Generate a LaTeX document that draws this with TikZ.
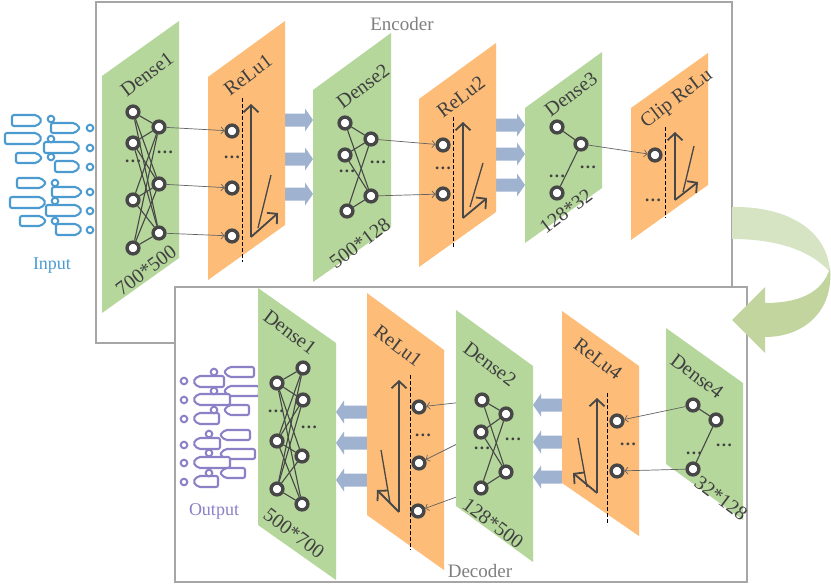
\documentclass[tikz,border=0pt]{standalone}
\usepackage{fontspec}
\setmainfont{Liberation Serif}
\usetikzlibrary{arrows.meta}
\pgfdeclarelayer{over}
\pgfsetlayers{main,over}
\definecolor{gr}{HTML}{B5D79B}
\definecolor{orn}{HTML}{FDBD78}
\definecolor{barr}{HTML}{9FB2CF}
\definecolor{ndc}{HTML}{474747}
\definecolor{txc}{HTML}{404040}
\definecolor{boxc}{HTML}{A6A6A6}
\definecolor{cvl}{HTML}{D7E4C4}
\definecolor{cvd}{HTML}{C2D59F}
\definecolor{inb}{HTML}{4C9BD0}
\definecolor{outp}{HTML}{8C80C6}
\definecolor{labc}{HTML}{7F7F7F}
\newcommand\mkTagR[5]{\draw[#5,fill=white] (#1,#2) -- (#3-5,#2) -- (#3,{(#2+#4)/2}) -- (#3-5,#4) -- (#1,#4) -- cycle;}
\newcommand\mkTagL[5]{\draw[#5,fill=white] (#3,#2) -- (#1+5,#2) -- (#1,{(#2+#4)/2}) -- (#1+5,#4) -- (#3,#4) -- cycle;}
\newcommand\mkArrR[3]{\fill[barr] (#1,#3-6.5) -- (#2-8,#3-6.5) -- (#2-8,#3-11.5) -- (#2,#3) -- (#2-8,#3+11.5) -- (#2-8,#3+6.5) -- (#1,#3+6.5) -- cycle;}
\newcommand\mkArrL[3]{\fill[barr] (#2,#3-6.5) -- (#1+8,#3-6.5) -- (#1+8,#3-11.5) -- (#1,#3) -- (#1+8,#3+11.5) -- (#1+8,#3+6.5) -- (#2,#3+6.5) -- cycle;}
\newcommand\mydots{.\kern1.6pt.\kern1.6pt.}
\begin{document}
\begin{tikzpicture}[x=1pt,y=-1pt,
 nd/.style={circle,draw=ndc,fill=white,line width=3.4pt,minimum size=11.8pt,inner sep=0pt},
 dotn/.style={text=txc,inner sep=0pt,font=\bfseries\fontsize{17}{17}\selectfont},
 lab/.style={text=txc,inner sep=0pt,font=\fontsize{20}{20}\selectfont},
 inlink/.style={draw=ndc,line width=1.1pt},
 feedln/.style={draw=ndc!85,line width=0.7pt,-{Straight Barb[length=3pt,width=7pt]}},
 reluax/.style={draw=ndc,line width=1.8pt,-{Straight Barb[length=7pt,width=15pt]}},
 rline/.style={draw=ndc,line width=1.3pt},
 dashln/.style={draw=black,line width=0.9pt,dash pattern=on 3.5pt off 2.5pt},
 boxfr/.style={draw=boxc,line width=1.5pt},
 tagi/.style={draw=inb,line width=2.1pt,rounded corners=2pt},
 tago/.style={draw=outp,line width=2.1pt,rounded corners=2pt},
]
\useasboundingbox (0,0) rectangle (831,587);
% boxes
\draw[boxfr,fill=white] (96,2) rectangle (732,343);
\draw[boxfr,fill=white] (175,287) rectangle (747,582);
\node[text=labc,font=\fontsize{19}{19}\selectfont] (tenc) at (402,24) {Encoder};
\node[text=labc,font=\fontsize{19}{19}\selectfont] (tdec) at (480,571) {Decoder};
% curved arrow
\fill[cvl] (732,207) .. controls (790,206) and (828,232) .. (830,272) .. controls (812,252) and (780,239) .. (732,239) -- cycle;
\fill[cvd] (830,268) .. controls (834,310) and (805,337) .. (765,337) -- (765,353) -- (732,320) -- (765,287) -- (765,303) .. controls (795,303) and (822,295) .. (830,268) -- cycle;
% input icons
\mkTagR{12}{115}{42}{126}{tagi} \mkTagR{51}{123}{80}{133}{tagi}
\mkTagR{5}{133}{42}{144}{tagi} \mkTagR{44}{142}{80}{153}{tagi}
\mkTagR{16}{153}{42}{163}{tagi} \mkTagR{55}{161}{80}{172}{tagi}
\mkTagR{17}{178}{46}{188}{tagi} \mkTagR{52}{187}{82}{197}{tagi}
\mkTagR{10}{197}{46}{208}{tagi} \mkTagR{46}{205}{82}{216}{tagi}
\mkTagR{20}{216}{46}{226}{tagi} \mkTagR{56}{224}{82}{235}{tagi}
\foreach \p in {(51,119),(51,139),(51,157),(55,183),(55,201),(55,221),(90,128),(90,148),(90,167),(90,192),(90,211),(90,230)}
  \draw[draw=inb,line width=2pt,fill=white] \p circle (3.3pt);
\node[text=inb,font=\fontsize{18}{18}\selectfont] (tin) at (52,266) {Input};
% output icons
\mkTagL{224}{367}{254}{377}{tago} \mkTagL{193}{376}{224}{387}{tago}
\mkTagL{224}{386}{259}{396}{tago} \mkTagL{193}{394}{230}{405}{tago}
\mkTagL{224}{405}{249}{415}{tago} \mkTagL{193}{413}{219}{424}{tago}
\mkTagL{220}{430}{250}{440}{tago} \mkTagL{193}{438}{220}{449}{tago}
\mkTagL{220}{449}{255}{459}{tago} \mkTagL{193}{457}{230}{468}{tago}
\mkTagL{220}{468}{245}{478}{tago} \mkTagL{193}{476}{218}{487}{tago}
\foreach \p in {(214,372),(214,391),(214,410),(209,434),(209,453),(209,473),(184,381),(184,400),(184,419),(184,445),(184,463),(184,482)}
  \draw[draw=outp,line width=2pt,fill=white] \p circle (3.3pt);
\node[text=outp,font=\fontsize{18}{18}\selectfont] (tout) at (214,511) {Output};
% blue arrows
\foreach \y in {120,159,194} {\mkArrR{285}{313}{\y}}
\foreach \y in {125,154,185} {\mkArrR{496}{525}{\y}}
\foreach \y in {412,443,480} {\mkArrL{336}{367}{\y}}
\foreach \y in {405,442,477} {\mkArrL{533}{562}{\y}}
% encoder layers
\fill[gr] (102,76) -- (179,21) -- (179,258) -- (102,313) -- cycle;
\fill[orn] (208,77) -- (285,21) -- (285,225) -- (208,280) -- cycle;
\fill[gr] (313,90) -- (391,33) -- (391,227) -- (313,282) -- cycle;
\fill[orn] (419,99) -- (496,43) -- (496,212) -- (419,267) -- cycle;
\fill[gr] (525,108) -- (602,52) -- (602,188) -- (525,243) -- cycle;
\fill[orn] (631,108) -- (708,53) -- (708,185) -- (631,240) -- cycle;
% decoder layers
\fill[gr] (258,288) -- (336,343) -- (336,580) -- (258,525) -- cycle;
\fill[orn] (367,293) -- (444,350) -- (444,570) -- (367,515) -- cycle;
\begin{pgfonlayer}{over}
\fill[gr] (456,310) -- (533,366) -- (533,562) -- (456,506) -- cycle;
\end{pgfonlayer}
\fill[orn] (562,311) -- (639,366) -- (639,536) -- (562,483) -- cycle;
\fill[gr] (666,328) -- (743,383) -- (743,520) -- (666,464) -- cycle;
% labels encoder
\node[lab,rotate=37] (tE1) at (147,74) {Dense1};
\node[lab,rotate=37] (tE1s) at (146,270) {700*500};
\node[lab,rotate=37] (tR1) at (248,75) {ReLu1};
\node[lab,rotate=37] (tE2) at (363,86) {Dense2};
\node[lab,rotate=37] (tE2s) at (360,243) {500*128};
\node[lab,rotate=37] (tR2) at (461,97) {ReLu2};
\node[lab,rotate=37] (tE3) at (571,94) {Dense3};
\node[lab,rotate=37] (tE3s) at (566,211) {128*32};
\node[lab,rotate=37] (tCR) at (677,99) {Clip ReLu};
% labels decoder
\node[lab,rotate=-37] (tD1) at (290,332) {Dense1};
\node[lab,rotate=-37] (tD1s) at (294,533) {500*700};
\node[lab,rotate=-37] (tQ1) at (398,346) {ReLu1};
\begin{pgfonlayer}{over}
\node[lab,rotate=-37] (tD2) at (490,364) {Dense2};
\node[lab,rotate=-37] (tD2s) at (493,523) {128*500};
\end{pgfonlayer}
\node[lab,rotate=-37] (tQ4) at (598,359) {ReLu4};
\node[lab,rotate=-37] (tD4) at (697,376) {Dense4};
\node[lab,rotate=-37] (tD4s) at (721,498) {32*128};
% dashed lines
\draw[dashln] (242,98) -- (242,262);
\draw[dashln] (453,117) -- (453,248);
\draw[dashln] (665,127) -- (665,218);
\draw[dashln] (410,375) -- (410,550);
\draw[dashln] (607,393) -- (607,525);
% relu symbols encoder
\draw[reluax] (251,237) -- (251,104);
\draw[reluax] (251,237) -- (278,213);
\draw[rline] (258,228) -- (271,175);
\draw[reluax] (463,218) -- (463,122);
\draw[reluax] (463,218) -- (487,198);
\draw[rline] (470,207) -- (483,163);
\draw[reluax] (675,200) -- (675,132);
\draw[reluax] (675,200) -- (698,182);
\draw[rline] (683,192) -- (694,146);
% relu symbols decoder
\draw[reluax] (399,512) -- (399,380);
\draw[reluax] (399,512) -- (377,490);
\draw[rline] (390,503) -- (381,450);
\draw[reluax] (597,493) -- (597,398);
\draw[reluax] (597,493) -- (573,473);
\draw[rline] (587,487) -- (578,438);
% encoder nodes
\node[nd] (e1a) at (133,112) {}; \node[nd] (e1b) at (133,143) {};
\node[nd] (e1c) at (133,200) {}; \node[nd] (e1d) at (133,248) {};
\node[nd] (e1e) at (159,127) {}; \node[nd] (e1f) at (159,184) {};
\node[nd] (e1g) at (159,233) {};
\node[dotn] (e1x) at (133,161) {\mydots}; \node[dotn] (e1y) at (165,152) {\mydots};
\node[nd] (r1a) at (232,131) {}; \node[nd] (r1b) at (232,188) {};
\node[nd] (r1c) at (232,236) {};
\node[dotn] (r1x) at (232,157) {\mydots};
\node[nd] (e2a) at (345,123) {}; \node[nd] (e2b) at (345,155) {};
\node[nd] (e2c) at (347,211) {};
\node[nd] (e2d) at (371,139) {}; \node[nd] (e2e) at (371,196) {};
\node[dotn] (e2x) at (347,171) {\mydots}; \node[dotn] (e2y) at (378,162) {\mydots};
\node[nd] (r2a) at (443,145) {}; \node[nd] (r2b) at (443,194) {};
\node[dotn] (r2x) at (443,168) {\mydots};
\node[nd] (e3a) at (557,127) {}; \node[nd] (e3b) at (581,144) {};
\node[nd] (e3c) at (557,193) {};
\node[dotn] (e3x) at (557,176) {\mydots}; \node[dotn] (e3y) at (588,167) {\mydots};
\node[nd] (c1a) at (655,155) {};
\node[dotn] (c1x) at (653,200) {\mydots};
% decoder nodes
\node[nd] (d1a) at (303,368) {}; \node[nd] (d1b) at (303,400) {};
\node[nd] (d1c) at (302,456) {}; \node[nd] (d1d) at (302,504) {};
\node[nd] (d1e) at (277,383) {}; \node[nd] (d1f) at (277,441) {};
\node[nd] (d1g) at (277,489) {};
\node[dotn] (d1x) at (276,411) {\mydots}; \node[dotn] (d1y) at (309,427) {\mydots};
\node[nd] (q1a) at (419,407) {}; \node[nd] (q1b) at (419,463) {};
\node[nd] (q1c) at (418,511) {};
\node[dotn] (q1x) at (423,435) {\mydots};
\begin{pgfonlayer}{over}
\node[nd] (d2a) at (482,400) {}; \node[nd] (d2b) at (481,432) {};
\node[nd] (d2c) at (481,488) {};
\node[nd] (d2d) at (506,414) {}; \node[nd] (d2e) at (506,472) {};
\node[dotn] (d2x) at (482,448) {\mydots}; \node[dotn] (d2y) at (513,439) {\mydots};
\foreach \a in {d2a,d2b,d2c} \foreach \b in {d2d,d2e} \draw[inlink] (\a) -- (\b);
\end{pgfonlayer}
\node[nd] (q4a) at (617,421) {}; \node[nd] (q4b) at (617,471) {};
\node[dotn] (q4x) at (628,444) {\mydots};
\node[nd] (d4a) at (693,405) {}; \node[nd] (d4b) at (716,420) {};
\node[nd] (d4c) at (693,469) {};
\node[dotn] (d4x) at (694,453) {\mydots}; \node[dotn] (d4y) at (724,445) {\mydots};
% inner links
\foreach \a in {e1a,e1b,e1c,e1d} \foreach \b in {e1e,e1f,e1g} \draw[inlink] (\a) -- (\b);
\foreach \a in {e2a,e2b,e2c} \foreach \b in {e2d,e2e} \draw[inlink] (\a) -- (\b);
\draw[inlink] (e3a) -- (e3b); \draw[inlink] (e3c) -- (e3b);
\foreach \a in {d1a,d1b,d1c,d1d} \foreach \b in {d1e,d1f,d1g} \draw[inlink] (\a) -- (\b);
\draw[inlink] (d4a) -- (d4b); \draw[inlink] (d4c) -- (d4b);
% feeds
\draw[feedln] (e1e) -- (r1a); \draw[feedln] (e1f) -- (r1b); \draw[feedln] (e1g) -- (r1c);
\draw[feedln] (e2d) -- (r2a); \draw[feedln] (e2e) -- (r2b);
\draw[feedln] (e3b) -- (c1a);
\draw[feedln] (d2a) -- (q1a); \draw[feedln] (d2b) -- (q1b); \draw[feedln] (d2c) -- (q1c);
\draw[feedln] (d4a) -- (q4a); \draw[feedln] (d4c) -- (q4b);
\end{tikzpicture}
\end{document}
